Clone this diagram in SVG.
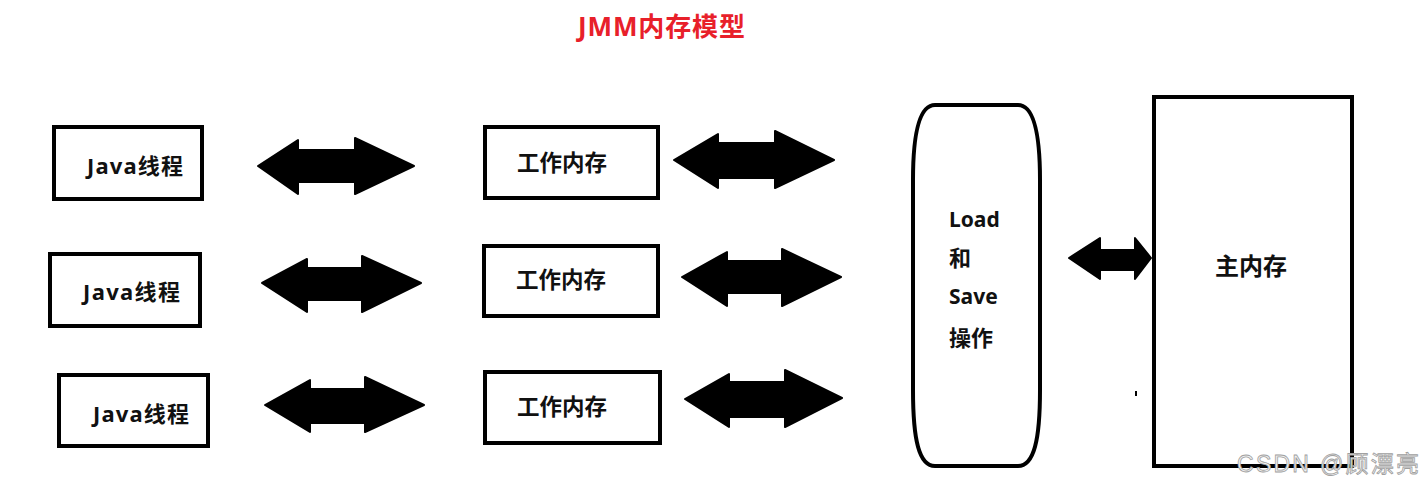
<svg xmlns="http://www.w3.org/2000/svg" width="1424" height="495" viewBox="0 0 1424 495">
<style>
.box{fill:#fff;stroke:#000;stroke-width:4}
.t{font-family:"Noto Sans","Noto Sans CJK SC",sans-serif;font-weight:700;fill:#111}
.arr{fill:#000;stroke:#000;stroke-width:2;stroke-linejoin:round}
.title{font-family:"Noto Sans","Noto Sans CJK SC",sans-serif;font-weight:700;fill:#e8202a;font-size:26px}
.wm{font-family:"Liberation Sans","Noto Sans CJK SC",sans-serif;font-size:23px;fill:#f2f2f2;stroke:#a0a0a0;stroke-width:0.8}
</style>
<rect width="1424" height="495" fill="#fff"/>
<text class="title" x="578" y="36" textLength="167">JMM内存模型</text>

<g id="java1"><rect class="box" x="54" y="127" width="148" height="72"/><text class="t" x="87" y="174" font-size="22" textLength="96">Java线程</text></g>
<g id="java2"><rect class="box" x="50" y="254" width="150" height="72"/><text class="t" x="83" y="300" font-size="22" textLength="97">Java线程</text></g>
<g id="java3"><rect class="box" x="59" y="375" width="149" height="71"/><text class="t" x="93" y="422" font-size="22" textLength="96">Java线程</text></g>

<g id="work1"><rect class="box" x="485" y="127" width="173" height="71"/><text class="t" x="517" y="171" font-size="22.5">工作内存</text></g>
<g id="work2"><rect class="box" x="484" y="246" width="174" height="70"/><text class="t" x="516" y="288" font-size="22.5">工作内存</text></g>
<g id="work3"><rect class="box" x="485" y="372" width="175" height="71"/><text class="t" x="517" y="415" font-size="22.5">工作内存</text></g>

<g id="loadsave">
<path class="box" d="M935,105 L1018,105 C1034,105 1040,135 1040,180 L1040,390 C1040,440 1034,466 1018,466 L935,466 C919,466 913,440 913,390 L913,180 C913,135 919,105 935,105 Z"/>
<text class="t" x="949" y="227" font-size="21">Load</text>
<text class="t" x="949" y="266" font-size="22">和</text>
<text class="t" x="949" y="304" font-size="21">Save</text>
<text class="t" x="949" y="346" font-size="22">操作</text>
</g>

<g id="mainmem"><rect class="box" x="1154" y="97" width="198" height="369"/><text class="t" x="1215" y="275" font-size="24">主内存</text></g>

<g id="connectors">
<path class="arr" d="M258,166 L298,140 L298,150 L355,150 L355,138 L414,166 L355,194 L355,182 L298,182 L298,194 Z"/>
<path class="arr" d="M674,160 L718,134 L718,143 L775,143 L775,131 L834,160 L775,188 L775,178 L718,178 L718,188 Z"/>
<path class="arr" d="M262,283 L307,259 L307,268 L362,268 L362,256 L421,283 L362,312 L362,300 L307,300 L307,312 Z"/>
<path class="arr" d="M682,277 L727,252 L727,261 L782,261 L782,249 L841,277 L782,306 L782,293 L727,293 L727,306 Z"/>
<path class="arr" d="M265,405 L310,380 L310,389 L365,389 L365,377 L424,405 L365,432 L365,423 L310,423 L310,432 Z"/>
<path class="arr" d="M685,399 L729,374 L729,382 L785,382 L785,370 L842,398 L785,427 L785,417 L729,417 L729,427 Z"/>
<path class="arr" d="M1069,258 L1100,238 L1100,250 L1135,250 L1135,238 L1151,258 L1135,279 L1135,270 L1100,270 L1100,279 Z"/>
</g>

<rect x="1135" y="391" width="2" height="5" fill="#000"/>
<text class="wm" x="1237" y="472" textLength="182">CSDN @顾漂亮</text>
</svg>
